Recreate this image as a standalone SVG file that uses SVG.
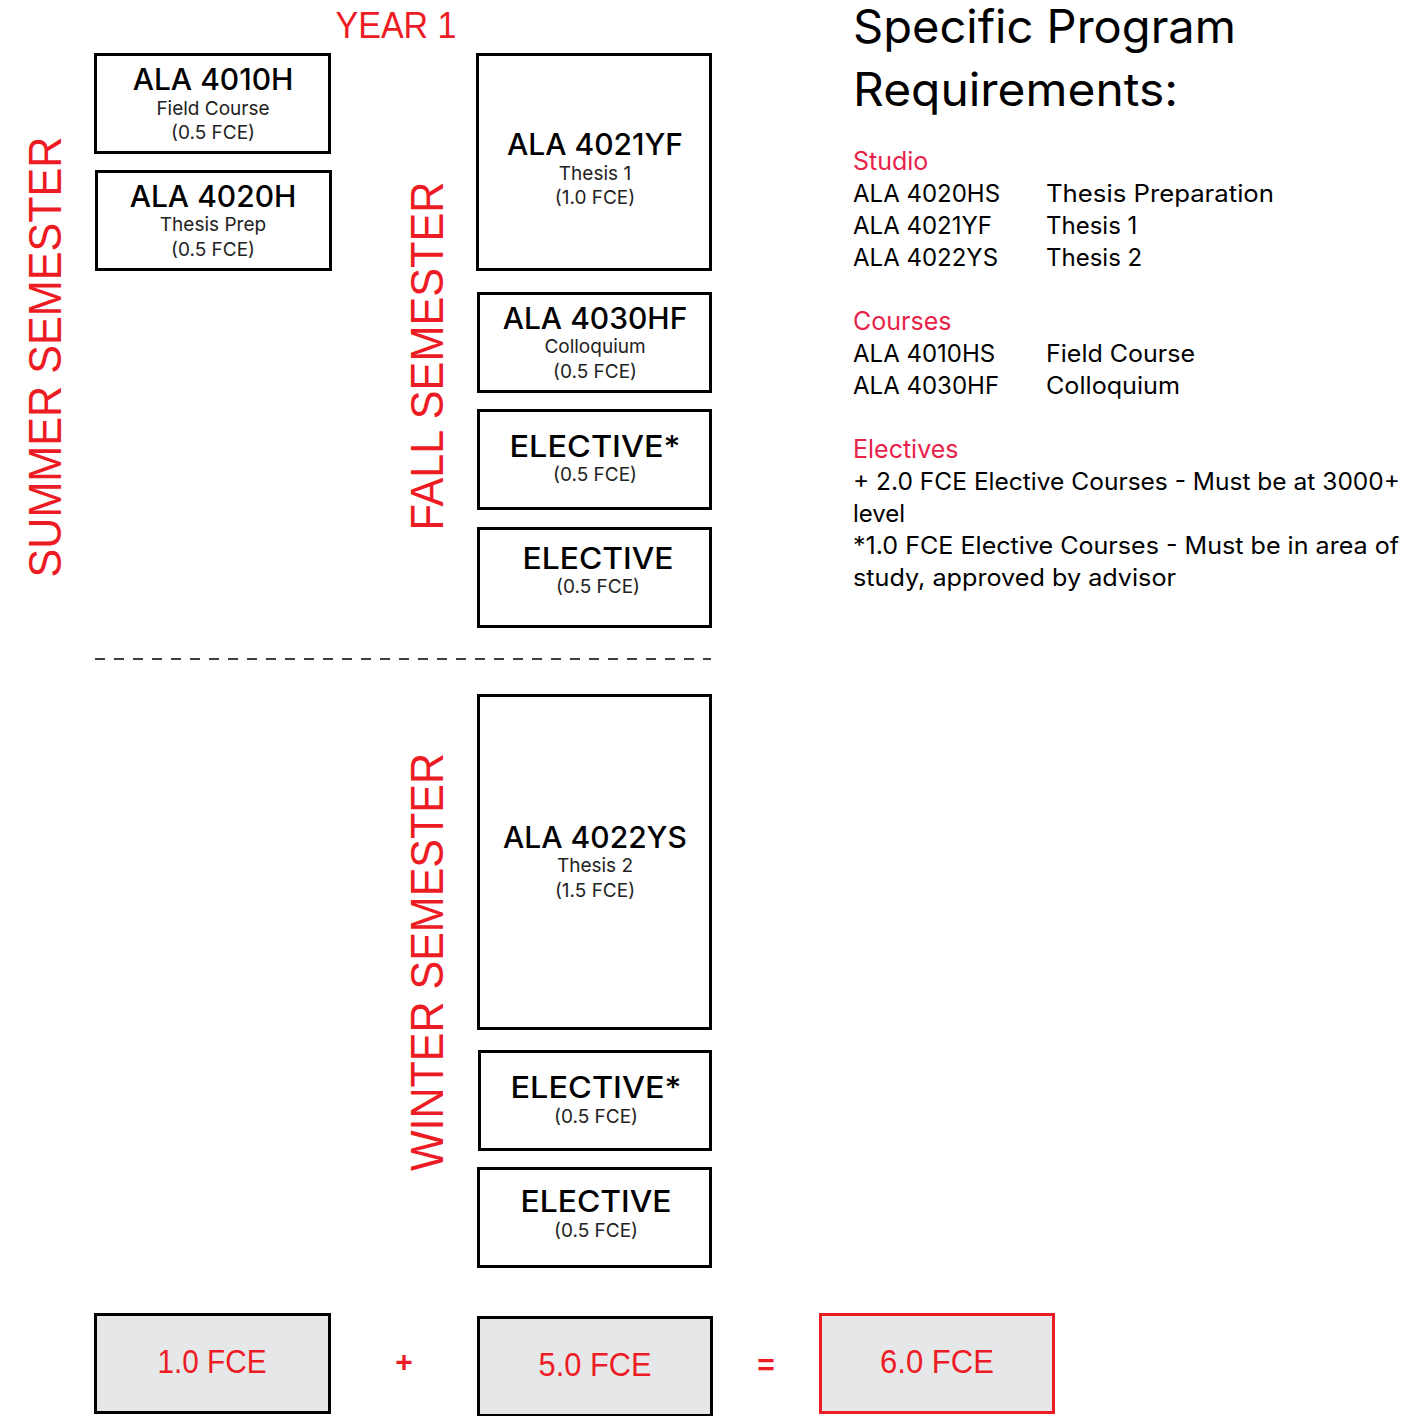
<svg xmlns="http://www.w3.org/2000/svg" width="1408" height="1416" viewBox="0 0 1408 1416">
<style>
.box{fill:#fff;stroke:#000;stroke-width:3}
.tot{fill:#e6e7e9;stroke:#000;stroke-width:3}
.t{font-family:Inter,"Liberation Sans",sans-serif;fill:#000;text-anchor:middle}
.h{font-size:30px;font-weight:500}
.s{font-size:19px;fill:#222}
.sem{font-family:"Liberation Sans",Arial,sans-serif;fill:#ed1c24;font-size:46px;text-anchor:middle}
.red{font-family:"Liberation Sans",Arial,sans-serif;fill:#ed1c24;text-anchor:middle}
.r{font-family:Inter,"Liberation Sans",sans-serif;fill:#000;font-size:24px}
.big{font-size:46px}
.rh{font-family:Inter,"Liberation Sans",sans-serif;fill:#e8234a;font-size:25px}
</style>
<rect width="1408" height="1416" fill="#fff"/>
<text class="red" x="396" y="38" font-size="36" textLength="121" lengthAdjust="spacingAndGlyphs">YEAR 1</text>
<text class="sem" transform="translate(61,357) rotate(-90)" textLength="441" lengthAdjust="spacingAndGlyphs">SUMMER SEMESTER</text>
<text class="sem" transform="translate(443,356) rotate(-90)" textLength="349" lengthAdjust="spacingAndGlyphs">FALL SEMESTER</text>
<text class="sem" transform="translate(443,962) rotate(-90)" textLength="418" lengthAdjust="spacingAndGlyphs">WINTER SEMESTER</text>
<g id="n4010">
<rect class="box" x="95.5" y="54.5" width="234" height="98"/>
<text class="t h" x="213" y="90">ALA 4010H</text>
<text class="t s" x="213" y="115">Field Course</text>
<text class="t s" x="213" y="139">(0.5 FCE)</text>
</g>
<g id="n4020">
<rect class="box" x="96.5" y="171.5" width="234" height="98"/>
<text class="t h" x="213" y="207">ALA 4020H</text>
<text class="t s" x="213" y="231">Thesis Prep</text>
<text class="t s" x="213" y="256">(0.5 FCE)</text>
</g>
<g id="n4021">
<rect class="box" x="477.5" y="54.5" width="233" height="215"/>
<text class="t h" x="595" y="155">ALA 4021YF</text>
<text class="t s" x="595" y="180">Thesis 1</text>
<text class="t s" x="595" y="204">(1.0 FCE)</text>
</g>
<g id="n4030">
<rect class="box" x="478.5" y="293.5" width="232" height="98"/>
<text class="t h" x="595" y="329">ALA 4030HF</text>
<text class="t s" x="595" y="353">Colloquium</text>
<text class="t s" x="595" y="378">(0.5 FCE)</text>
</g>
<g id="nelf1">
<rect class="box" x="478.5" y="410.5" width="232" height="98"/>
<text class="t h" x="595" y="457" textLength="171" lengthAdjust="spacingAndGlyphs">ELECTIVE*</text>
<text class="t s" x="595" y="481">(0.5 FCE)</text>
</g>
<g id="nelf2">
<rect class="box" x="478.5" y="528.5" width="232" height="98"/>
<text class="t h" x="598" y="569" textLength="151" lengthAdjust="spacingAndGlyphs">ELECTIVE</text>
<text class="t s" x="598" y="593">(0.5 FCE)</text>
</g>
<g id="connectors">
<line x1="95" y1="659" x2="711" y2="659" stroke="#000" stroke-width="1.5" stroke-dasharray="10,9"/>
</g>
<g id="n4022">
<rect class="box" x="478.5" y="695.5" width="232" height="333"/>
<text class="t h" x="595" y="848">ALA 4022YS</text>
<text class="t s" x="595" y="872">Thesis 2</text>
<text class="t s" x="595" y="897">(1.5 FCE)</text>
</g>
<g id="nelw1">
<rect class="box" x="479.5" y="1051.5" width="231" height="98"/>
<text class="t h" x="596" y="1098" textLength="171" lengthAdjust="spacingAndGlyphs">ELECTIVE*</text>
<text class="t s" x="596" y="1123">(0.5 FCE)</text>
</g>
<g id="nelw2">
<rect class="box" x="478.5" y="1168.5" width="232" height="98"/>
<text class="t h" x="596" y="1212" textLength="151" lengthAdjust="spacingAndGlyphs">ELECTIVE</text>
<text class="t s" x="596" y="1237">(0.5 FCE)</text>
</g>
<g id="tot1">
<rect class="tot" x="95.5" y="1314.5" width="234" height="98"/>
<text class="red" x="212" y="1373" font-size="34" textLength="109" lengthAdjust="spacingAndGlyphs">1.0 FCE</text>
</g>
<text class="red" x="404" y="1372" font-size="30" font-weight="bold">+</text>
<g id="tot2">
<rect class="tot" x="478.5" y="1317.5" width="233" height="98"/>
<text class="red" x="595" y="1376" font-size="34" textLength="113" lengthAdjust="spacingAndGlyphs">5.0 FCE</text>
</g>
<text class="red" x="766" y="1375" font-size="30" font-weight="bold">=</text>
<g id="tot3">
<rect class="tot" x="820.5" y="1314.5" width="233" height="98" style="stroke:#ed1c24"/>
<text class="red" x="937" y="1373" font-size="34" textLength="114" lengthAdjust="spacingAndGlyphs">6.0 FCE</text>
</g>
<g id="requirements">
<text class="r big" x="853" y="43" textLength="383" lengthAdjust="spacingAndGlyphs">Specific Program</text>
<text class="r big" x="853" y="106" textLength="325" lengthAdjust="spacingAndGlyphs">Requirements:</text>
<text class="rh" x="853" y="170">Studio</text>
<text class="r" x="853" y="202">ALA 4020HS</text><text class="r" x="1046" y="202" textLength="228" lengthAdjust="spacingAndGlyphs">Thesis Preparation</text>
<text class="r" x="853" y="234">ALA 4021YF</text><text class="r" x="1046" y="234">Thesis 1</text>
<text class="r" x="853" y="266">ALA 4022YS</text><text class="r" x="1046" y="266">Thesis 2</text>
<text class="rh" x="853" y="330">Courses</text>
<text class="r" x="853" y="362">ALA 4010HS</text><text class="r" x="1046" y="362" textLength="149" lengthAdjust="spacingAndGlyphs">Field Course</text>
<text class="r" x="853" y="394">ALA 4030HF</text><text class="r" x="1046" y="394" textLength="134" lengthAdjust="spacingAndGlyphs">Colloquium</text>
<text class="rh" x="853" y="458">Electives</text>
<text class="r" x="853" y="490" textLength="547" lengthAdjust="spacingAndGlyphs">+ 2.0 FCE Elective Courses - Must be at 3000+</text>
<text class="r" x="853" y="522">level</text>
<text class="r" x="853" y="554" textLength="546" lengthAdjust="spacingAndGlyphs">*1.0 FCE Elective Courses - Must be in area of</text>
<text class="r" x="853" y="586" textLength="323" lengthAdjust="spacingAndGlyphs">study, approved by advisor</text>
</g>
</svg>
